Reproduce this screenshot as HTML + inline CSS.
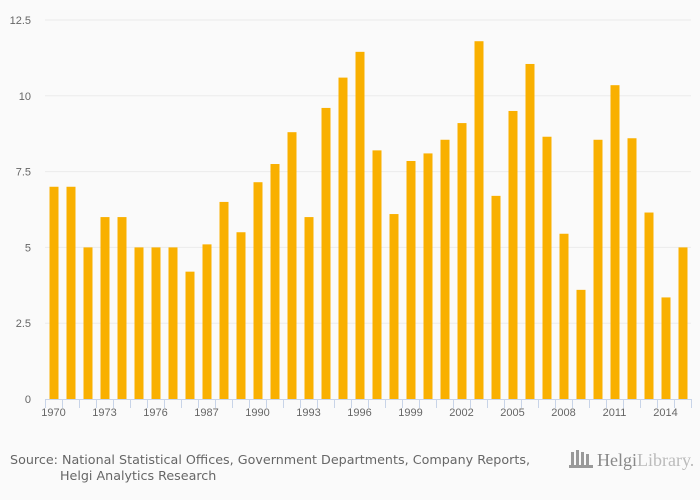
<!DOCTYPE html>
<html><head><meta charset="utf-8"><style>
body{margin:0;background:#fafafa;font-family:"Liberation Sans",sans-serif}
svg{display:block}
</style></head><body>
<svg id="c" width="700" height="500">
<rect width="700" height="500" fill="#fafafa"/>
<text x="10" y="464" font-size="12.7" fill="#666" font-family="DejaVu Sans,sans-serif" textLength="520">Source: National Statistical Offices, Government Departments, Company Reports,</text>
<text x="60" y="480" font-size="12.7" fill="#666" font-family="DejaVu Sans,sans-serif">Helgi Analytics Research</text>
<g>
<rect x="571" y="452" width="3" height="14" fill="#999"/><rect x="576" y="450" width="3" height="16" fill="#999"/><rect x="581" y="452" width="3" height="14" fill="#999"/><rect x="586" y="454" width="3" height="12" fill="#999"/>
<rect x="569" y="465" width="24" height="3" fill="#999"/>
<text x="597" y="466" font-size="18" fill="#888" font-family="Liberation Serif,serif">Helgi<tspan fill="#bbb">Library.</tspan></text>
</g>
</svg>
<script>
const categories=["1970","1971","1972","1973","1974","1975","1976","1977","1986","1987","1988","1989","1990","1991","1992","1993","1994","1995","1996","1997","1998","1999","2000","2001","2002","2003","2004","2005","2006","2007","2008","2009","2010","2011","2012","2013","2014","2015"];
const values=[7.0,7.0,5.0,6.0,6.0,5.0,5.0,5.0,4.2,5.1,6.5,5.5,7.15,7.75,8.8,6.0,9.6,10.6,11.45,8.2,6.1,7.85,8.1,8.55,9.1,11.8,6.7,9.5,11.05,8.65,5.45,3.6,8.55,10.35,8.6,6.15,3.35,5.0];
const yTicks=[0,2.5,5,7.5,10,12.5];
const yTickLabels=["0","2.5","5","7.5","10","12.5"];
const svg=document.getElementById('c');const NS='http://www.w3.org/2000/svg';
const L=45,R=691,T=20,B=399,yMax=12.5;
const step=(R-L)/categories.length;
const y=v=>B-(v/yMax)*(B-T);
const x=i=>L+i*step;
function mk(t,a){const e=document.createElementNS(NS,t);for(const k in a)e.setAttribute(k,a[k]);svg.appendChild(e);return e;}
yTicks.forEach((v,i)=>{
 if(v>0){const g=mk('line',{x1:L,x2:R,y1:y(v),y2:y(v),stroke:'#ebebeb','stroke-width':1});
 
 }
 const t=mk('text',{x:31,y:y(v)+4,'font-size':11,fill:'#666','text-anchor':'end'});t.textContent=yTickLabels[i];
 
 
});
values.forEach((v,i)=>{
 const r=mk('rect',{x:x(i)+4.5,y:y(v),width:9,height:B-y(v),fill:'#f9b000'});
 
 
});
const ax=mk('line',{x1:L,x2:R,y1:B+0.5,y2:B+0.5,stroke:'#c8d4e8','stroke-width':1});


for(let i=0;i<=categories.length;i++){
 const tk=mk('line',{x1:x(i)+0.5,x2:x(i)+0.5,y1:B,y2:B+9,stroke:'#c8d4e8','stroke-width':1});
 
 
}
categories.forEach((c,i)=>{
 if(i%3!==0)return;
 const t=mk('text',{x:x(i)+step/2,y:B+17,'font-size':11,fill:'#666','text-anchor':'middle'});t.textContent=c;
 
 
});
</script>
</body></html>
